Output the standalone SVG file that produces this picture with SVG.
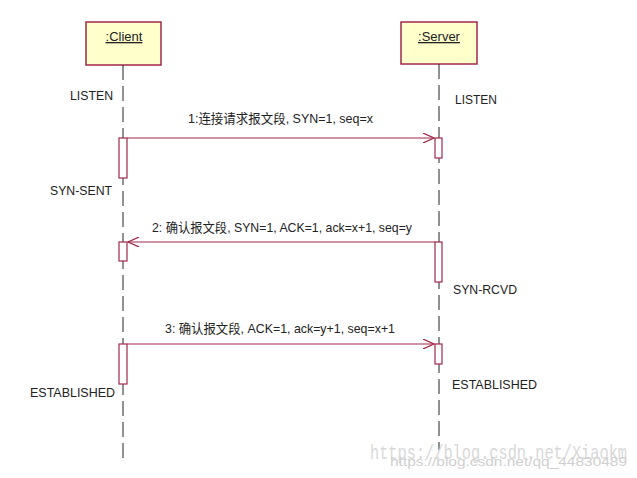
<svg xmlns="http://www.w3.org/2000/svg" width="637" height="478" viewBox="0 0 637 478">
<style>
.obj{fill:#FFFFCC;stroke:#A0284A;stroke-width:1.5}
.life{stroke:#222;stroke-width:1;stroke-dasharray:15 6;fill:none}
.act{fill:#fff;stroke:#A0284A;stroke-width:1.2}
.msg{stroke:#A0284A;stroke-width:1.2;fill:none}
.t{font-family:"Liberation Sans","Noto Sans CJK SC",sans-serif;font-size:13px;fill:#222}
.lbl{font-family:"Liberation Sans","Noto Sans CJK SC",sans-serif;font-size:13px;fill:#222;text-decoration:underline}
.wm{font-family:"Liberation Mono","DejaVu Sans Mono",monospace;fill:#d8d8d8}
</style>
<defs>
<marker id="open" viewBox="0 0 12 10" refX="11" refY="5" markerWidth="12" markerHeight="10" markerUnits="userSpaceOnUse" orient="auto">
<path d="M0,0 L11,5 L0,10" fill="none" stroke="#A0284A" stroke-width="1.2"/>
</marker>
</defs>
<rect width="637" height="478" fill="#fff"/>
<g id="client">
<rect class="obj" x="86" y="22" width="75" height="43"/>
<text class="lbl" x="124" y="41" text-anchor="middle">:Client</text>
<line class="life" x1="123" y1="65" x2="123" y2="458"/>
<rect class="act" x="119" y="138" width="8" height="40"/>
<rect class="act" x="119" y="242" width="8" height="19"/>
<rect class="act" x="119" y="344" width="8" height="40"/>
</g>
<g id="server">
<rect class="obj" x="401" y="22" width="76" height="42"/>
<text class="lbl" x="439" y="41" text-anchor="middle">:Server</text>
<line class="life" x1="439" y1="64" x2="439" y2="450"/>
<rect class="act" x="435" y="138" width="7" height="20"/>
<rect class="act" x="435" y="242" width="7" height="40"/>
<rect class="act" x="435" y="344" width="7" height="20"/>
</g>
<g id="states">
<text class="t" x="70" y="100" textLength="43" lengthAdjust="spacingAndGlyphs">LISTEN</text>
<text class="t" x="455" y="104" textLength="42" lengthAdjust="spacingAndGlyphs">LISTEN</text>
<text class="t" x="50" y="195" textLength="62" lengthAdjust="spacingAndGlyphs">SYN-SENT</text>
<text class="t" x="453" y="294" textLength="64" lengthAdjust="spacingAndGlyphs">SYN-RCVD</text>
<text class="t" x="30" y="397" textLength="85" lengthAdjust="spacingAndGlyphs">ESTABLISHED</text>
<text class="t" x="452" y="389" textLength="85" lengthAdjust="spacingAndGlyphs">ESTABLISHED</text>
</g>
<g id="connectors">
<line class="msg" x1="127" y1="138" x2="434" y2="138" marker-end="url(#open)"/>
<line class="msg" x1="435" y1="242" x2="128" y2="242" marker-end="url(#open)"/>
<line class="msg" x1="127" y1="344" x2="434" y2="344" marker-end="url(#open)"/>
<text class="t" x="188" y="123" textLength="185" lengthAdjust="spacingAndGlyphs">1:连接请求报文段, SYN=1, seq=x</text>
<text class="t" x="152" y="232" textLength="260" lengthAdjust="spacingAndGlyphs">2: 确认报文段, SYN=1, ACK=1, ack=x+1, seq=y</text>
<text class="t" x="165" y="333" textLength="230" lengthAdjust="spacingAndGlyphs">3: 确认报文段, ACK=1, ack=y+1, seq=x+1</text>
</g>
<g id="watermark">
<text class="wm" x="370" y="459" font-size="21" textLength="257" lengthAdjust="spacingAndGlyphs">https://blog.csdn.net/Xiaokm</text>
<text class="wm" x="390" y="466" font-size="12" textLength="237" lengthAdjust="spacingAndGlyphs" style="fill:#cfcfcf;font-family:'Liberation Sans',sans-serif">https://blog.csdn.net/qq_44830489</text>
</g>
</svg>
